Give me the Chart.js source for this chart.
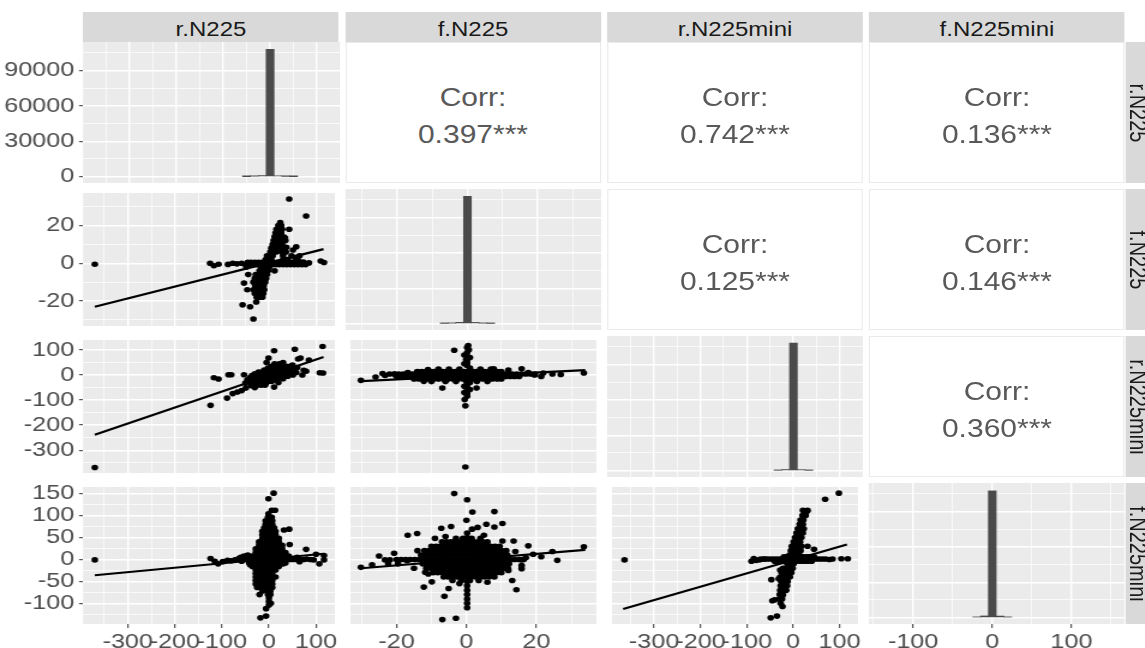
<!DOCTYPE html>
<html>
<head>
<meta charset="utf-8">
<script src="https://cdn.jsdelivr.net/npm/chart.js@4.4.1/dist/chart.umd.min.js"></script>
<style>
  html, body { margin: 0; padding: 0; background: #fff; overflow: hidden; width: 1145px; height: 648px; }
  /* the picture is a little wider than tall text would suggest, so lay it out narrow and stretch */
  #stage { position: absolute; left: 0; top: 0; width: 954.17px; height: 648px; transform-origin: 0 0; transform: scaleX(1.2); font-family: "Liberation Sans", Arial, sans-serif; }
  .strip { position: absolute; background: #D9D9D9; color: #1A1A1A; font-size: 20px; text-align: center; }
  .cor { position: absolute; background: #fff; border: 1px solid #EBEBEB; box-sizing: border-box; color: #595959; font-size: 25px; text-align: center; }
  .cor div { position: absolute; left: 0; right: 0; line-height: 30px; }
  canvas { position: absolute; }
</style>
</head>
<body>
<div id="stage"></div>
<script>
// ---- values ----
var variables = ['r.N225', 'f.N225', 'r.N225mini', 'f.N225mini'];

// upper triangle
var corrPairs = [[0, 1], [0, 2], [0, 3], [1, 2], [1, 3], [2, 3]];
var corrValues = [0.397, 0.742, 0.136, 0.125, 0.146, 0.360];
var corrStars = ['***', '***', '***', '***', '***', '***'];

// axis ranges / breaks per variable
var varRange = [[-395, 140], [-33.2, 37.2], [-391, 140], [-147, 165]];
var histRange = [[-400, 149], [-34.6, 38], [-400, 149], [-156, 167]];
var xMajor = [[-300, -200, -100, 0, 100], [-20, 0, 20], [-300, -200, -100, 0, 100], [-100, 0, 100]];
var xMinor = [[-350, -250, -150, -50, 50], [-30, -10, 10, 30], [-350, -250, -150, -50, 50], [-150, -50, 50, 150]];
var yMajor = [null, [-20, 0, 20], [-300, -200, -100, 0, 100], [-100, -50, 0, 50, 100, 150]];
var yMinor = [null, [-30, -10, 10, 30], [-350, -250, -150, -50, 50], [-125, -75, -25, 25, 75, 125]];
var countRange = [-5440, 114300];
var countMajor = [0, 30000, 60000, 90000];
var countMinor = [15000, 45000, 75000, 105000];

// diagonal histograms: [bin centre, count]
var histRN225 = [[-50.2, 40], [-33.4, 300], [-16.6, 900], [0.2, 108000], [17, 700], [33.8, 200], [50.6, 30]];
var histFN225 = [[-6.6, 150], [-4.4, 400], [-2.2, 1100], [0, 108000], [2.2, 1000], [4.4, 350], [6.6, 120]];
var histRN225mini = [[-33.3, 250], [-16.7, 900], [0, 108200], [16.7, 800], [33.3, 200]];
var histFN225mini = [[-19.6, 500], [-9.8, 1400], [0, 107600], [9.8, 1300], [19.6, 450]];

// scatter panels: rows are [y, [x, x, ...]], pts are [x, y], fit is the drawn lm line
var fN225_rN225_rows = [
  [-18, [-26, -20, -14]], [-16, [-30, -24, -18, -12]], [-14, [-33, -27, -21, -15, -10]],
  [-12, [-29, -23, -17, -11]], [-10, [-33, -27, -21, -14, -8]], [-8, [-30, -24, -18, -12, -6]],
  [-6, [-28, -22, -16, -10, -4]], [-4, [-20, -14, -8, -2]], [-2, [-17, -11, -5, 1]],
  [-0.7, [-50, -41, -34, -26, -18, -10, 6, 14, 22, 30, 38, 46, 54, 62, 70, 78]],
  [0.5, [-45, -38, -30, -22, -14, -6, 2, 10, 18, 26, 34, 42, 50, 58, 66]],
  [2, [-7, -1, 5, 30, 40]], [4, [-4, 2, 8, 30, 48]], [6, [3, 9, 15, 27, 36]], [8, [5, 11, 17, 25, 33]],
  [10, [8, 14, 20, 28]], [12, [10, 16, 22, 30]], [14, [12, 18, 24, 31]], [16, [14, 20, 26]],
  [18, [16, 22, 28]], [20, [20, 26]], [21.5, [24]]
];
var fN225_rN225_pts = [[-370, -0.5], [43, 34], [79, 25], [-125, 0], [-117, -1.3], [-107, -0.5], [-87, -0.6], [-77, 0],
  [-68, -0.3], [-58, 0], [73, 0.7], [85, 0.2], [110, 1.2], [117, 0.4], [-53, -10.5], [-46, -14], [-56, -22], [-40, -23],
  [-27, -20.5], [-33, -29.5], [12, -4], [43, 18], [58, 8.7], [51, 7], [65, 4], [35, 12], [34, 13.5], [37, 8.5], [56, 3],
  [62, 1.5], [-44, -6], [-48, -2]];
var fN225_rN225_fit = [[-370, -23], [116, 7.5]];

var rN225mini_rN225_rows = [
  [45, [12, 22]], [35, [5, 13, 21, 29, 37, 45]], [28, [-2, 6, 14, 22, 30, 38, 46, 54]],
  [20, [-10, -2, 6, 14, 22, 30, 38, 46, 54]], [12, [-22, -14, -6, 2, 10, 18, 26, 34, 42, 50]],
  [5, [-30, -22, -14, -6, 2, 10, 18, 26, 34, 42]], [-2, [-36, -28, -20, -12, -4, 4, 12, 20, 28, 36]],
  [-10, [-40, -32, -24, -16, -8, 0, 8, 16, 24]], [-18, [-44, -36, -28, -20, -12, -4, 4, 12]],
  [-25, [-42, -34, -26, -18, -10, -2, 6]], [-32, [-30, -22, -14, -6]], [-40, [-24, -16, -8]]
];
var rN225mini_rN225_pts = [[-370, -369], [-124, -121], [-89, -92], [-77, -74], [-67, -68], [-58, -62], [-49, -52],
  [-117, -11], [-107, -16], [-86, 1], [-80, 1], [-53, 1], [-1, 68], [11, 97], [55, 103], [114, 114], [62, 64], [67, 68],
  [85, 60], [11, -48], [74, 19], [79, 15], [71, 0], [108, 9], [115, 8], [51, 0], [-46, -20], [-50, -32], [-30, -50],
  [-38, -42], [60, 30], [50, 40], [30, 50], [-5, 50], [20, -30], [30, -15], [40, -5], [58, 10]];
var rN225mini_rN225_fit = [[-370, -238], [116, 72]];

var fN225mini_rN225_rows = [
  [96, [-2, 6]], [88, [-7, 0, 7]], [80, [-7, 0, 7]], [72, [-10, -3, 4, 11]], [64, [-14, -7, 0, 7, 14]],
  [56, [-14, -7, 0, 7, 14]], [48, [-14, -7, 0, 7, 14, 21]], [40, [-21, -14, -7, 0, 7, 14, 21]],
  [32, [-21, -14, -7, 0, 7, 14, 21, 28]], [24, [-28, -21, -14, -7, 0, 7, 14, 21, 28]],
  [16, [-28, -21, -14, -7, 0, 7, 14, 21, 28, 35]], [8, [-35, -28, -21, -14, -7, 0, 7, 14, 21, 28, 35, 42]],
  [0, [-50, -42, -35, -28, -21, -14, -7, 0, 7, 14, 21, 28, 35, 42, 50, 58, 66, 74]],
  [-8, [-42, -35, -28, -21, -14, -7, 0, 7, 14, 21, 28, 35]], [-16, [-35, -28, -21, -14, -7, 0, 7, 14, 21]],
  [-24, [-28, -21, -14, -7, 0, 7, 14]], [-32, [-28, -21, -14, -7, 0, 7]], [-40, [-28, -21, -14, -7, 0, 7, 14]],
  [-48, [-28, -21, -14, -7, 0, 7]], [-56, [-28, -21, -14, -7, 0, 7]], [-64, [-25, -18, -7, 0, 7]],
  [-72, [-14, -4, 3]], [-80, [-2, 3]], [-88, [0]], [-96, [0]], [-104, [0]]
];
var fN225mini_rN225_pts = [[-370, -1], [-124, 2], [-108, -10], [-115, -4], [-98, -5], [-88, -2], [-80, -3], [-72, -1],
  [-64, 2], [-58, -4], [-53, 8], [80, 1], [88, 0], [95, -1], [100, 12], [107, -10], [117, 9], [117, -1], [79, 23], [44, 34],
  [-45, 10], [-40, -12], [10, 151], [-1, 138], [6, 112], [13, 112], [-1, 104], [-18, -133], [-6, -129], [32, 67], [43, 69],
  [-6, -112], [4, -100], [-20, -80], [60, 5], [65, -5], [30, -10], [-60, 5]];
var fN225mini_rN225_fit = [[-370, -36], [116, 13]];

var rN225mini_fN225_rows = [
  [24, [-8, -5, -2, 1, 4, 7]],
  [14, [-14, -12.8, -11.6, -10.4, -9.2, -8, -6.8, -5.6, -4.4, -3.2, -2, -0.8, 0.4, 1.6, 2.8, 4, 5.2, 6.4, 7.6, 8.8, 10]],
  [4, [-22, -20.7, -19.4, -18.1, -16.8, -15.5, -14.2, -12.9, -11.6, -10.3, -9, -7.7, -6.4, -5.1, -3.8, -2.5, -1.2, 0.1,
    1.4, 2.7, 4, 5.3, 6.6, 7.9, 9.2, 10.5, 11.8, 13.1, 14.4, 15.7, 17, 18.3, 19.6]],
  [-6, [-20, -18.7, -17.4, -16.1, -14.8, -13.5, -12.2, -10.9, -9.6, -8.3, -7, -5.7, -4.4, -3.1, -1.8, -0.5, 0.8, 2.1,
    3.4, 4.7, 6, 7.3, 8.6, 9.9, 11.2, 12.5, 13.8, 15.1]],
  [-16, [-15, -13.6, -12.2, -10.8, -9.4, -8, -6.6, -5.2, -3.8, -2.4, -1, 0.4, 1.8, 3.2, 4.6, 6, 7.4, 8.8, 10]],
  [-26, [-10, -6, -3, 0, 3, 6]]
];
var rN225mini_fN225_pts = [[-30.2, -21], [-23.3, -2], [-20.5, 4], [0.5, 118], [0.7, 101], [-3.5, 99], [-0.1, 61],
  [-0.5, -98], [-0.3, -123], [-0.3, -367], [15.8, 25], [17.7, 10], [19.5, 0], [21.4, -6], [24.6, 4], [33.6, 8],
  [-6.9, -52], [2.9, -52], [-12.2, -25], [7.8, 25], [-16.8, 10], [-14.1, 13], [-26, -8], [-24, 6], [22, 8], [27, 2],
  [12, 20], [-11, 22],
  [0.2, 110], [0.2, 90], [0.2, 75], [0.2, 62], [0.2, 50], [0.2, 38], [0.2, -38], [0.2, -50], [0.2, -62], [0.2, -75],
  [0.2, -85], [-0.6, 80], [-0.6, 45], [-0.6, -45], [-0.6, -70], [1, 70], [1, 28], [1, -30], [1, -58]];
var rN225mini_fN225_fit = [[-30, -24], [34, 20]];

var fN225mini_fN225_rows = [
  [48, [-3, -1, 1.5, 4]],
  [40, [-7, -5.7, -4.4, -3.1, -1.8, -0.5, 0.8, 2.1, 3.4, 4.7, 6]],
  [30, [-10, -8.7, -7.4, -6.1, -4.8, -3.5, -2.2, -0.9, 0.4, 1.7, 3, 4.3, 5.6, 6.9, 8.2, 9.5]],
  [20, [-12, -10.7, -9.4, -8.1, -6.8, -5.5, -4.2, -2.9, -1.6, -0.3, 1, 2.3, 3.6, 4.9, 6.2, 7.5, 8.8, 10.1, 11.4]],
  [10, [-13, -11.7, -10.4, -9.1, -7.8, -6.5, -5.2, -3.9, -2.6, -1.3, 0, 1.3, 2.6, 3.9, 5.2, 6.5, 7.8, 9.1, 10.4, 11.7]],
  [0, [-20, -18.7, -17.4, -16.1, -14.8, -13.5, -12.2, -10.9, -9.6, -8.3, -7, -5.7, -4.4, -3.1, -1.8, -0.5, 0.8, 2.1,
    3.4, 4.7, 6, 7.3, 8.6, 9.9, 11.2, 12.5, 13.8, 15.1, 16.4]],
  [-10, [-12.5, -11.2, -9.9, -8.6, -7.3, -6, -4.7, -3.4, -2.1, -0.8, 0.5, 1.8, 3.1, 4.4, 5.7, 7, 8.3, 9.6, 10.9, 12.2]],
  [-20, [-11.5, -10.2, -8.9, -7.6, -6.3, -5, -3.7, -2.4, -1.1, 0.2, 1.5, 2.8, 4.1, 5.4, 6.7, 8, 9.3, 10.6, 11.9]],
  [-30, [-9.5, -8.2, -6.9, -5.6, -4.3, -3, -1.7, -0.4, 0.9, 2.2, 3.5, 4.8, 6.1, 7.4, 8.7, 10]],
  [-40, [-6.5, -5.2, -3.9, -2.6, -1.3, 0, 1.3, 2.6, 3.9, 5.2, 6.5]],
  [-48, [-4, -1.5, 1, 3.5]]
];
var fN225mini_fN225_pts = [[-3.5, 150], [-6.9, -137], [-3, -134], [0.2, 136], [1.7, 108], [8, 109], [0, 89], [10.3, 82],
  [-7.2, 71], [-4.4, 75], [-16.8, 55], [-14.1, 59], [5.7, 80], [8, 74], [3.2, 73], [1.6, 69], [-23.3, -1], [-21.9, -1],
  [-20.7, 14], [-22.4, -10], [-19.6, -10], [17.7, 31], [19.1, 12], [21.4, 6], [24.6, 18], [33.6, 29], [15.8, -1],
  [15.8, -14], [15.8, -21], [13.1, -48], [14.3, -69], [8, -40], [10.3, 42], [13.5, 42], [-12.2, -63], [-9.9, -51],
  [-6.3, -84], [-5.1, -66], [-11.8, -29], [-10.9, -33], [0.2, 50], [0.2, 60], [0.2, -50], [0.2, -60], [0.2, -70],
  [0.2, -80], [0.2, -90], [0.2, -100], [0.2, -110], [-30.2, -18], [-14, 20], [14, 18], [-15, -20], [12, -25], [-6, 52],
  [5, 55], [-2, -55], [6, -52], [-9, 48], [17, 4], [-17, -3], [-25, 8], [-27, -12], [26, -2]];
var fN225mini_fN225_fit = [[-30, -20], [34, 22]];

var fN225mini_rN225mini_rows = [
  [110, [24, 30]], [100, [20, 27]], [90, [16, 22]], [80, [14, 21]], [70, [10, 17, 23]], [60, [7, 14, 21]],
  [50, [4, 11, 18]], [40, [1, 8, 15]], [30, [-3, 4, 11, 18]], [20, [-5, 2, 9, 16]], [10, [-8, -1, 6, 13]],
  [6, [-20, -13, -6, 1, 8, 15, 22, 29, 36, 45]],
  [1, [-70, -63, -56, -49, -42, -35, -28, -21, -14, -7, 0, 7, 14, 21, 28, 35, 42, 49, 56, 63, 70]],
  [-4, [-40, -32, -24, -16, -8, 0, 8, 16, 24, 32, 40]],
  [-10, [-13, -6, 1]], [-20, [-22, -15, -8, -1]], [-30, [-25, -18, -11, -4]], [-40, [-28, -21, -14, -7]],
  [-50, [-26, -19, -12]], [-60, [-27, -20, -13]], [-70, [-28, -21, -15]], [-80, [-29, -22]], [-90, [-30, -24]],
  [-100, [-27]]
];
var fN225mini_rN225mini_pts = [[-364, -1], [-90, -4], [-73, -1], [-62, 1], [-48.5, -133], [-35, -129], [-45, -94],
  [-40, -92], [-28, -24], [-47, -46], [-31, -44], [-23, -107], [-24, -84], [69, 137], [98.6, 151], [104, 1.6],
  [118, 1.6], [31, 30], [45, 23], [21, 112], [31, 112], [-85, 2], [-80, -2], [78, 0], [85, 1]];
var fN225mini_rN225mini_fit = [[-367, -113], [116, 34]];

// ---- layout (design px, stage is stretched 1.2x horizontally) ----
var S = 1.2;
var colL = [83, 345, 607, 869].map(function (v) { return v / S; });
var PW = 256 / S;
var rowT = [42, 189, 336, 483];
var PH = 141;
var BOTTOM = 648;
var TICK_FONT = { family: 'Liberation Sans', size: 21 };
var stage = document.getElementById('stage');

var histBins = [histRN225, histFN225, histRN225mini, histFN225mini];
var scatter = {
  '1,0': [fN225_rN225_rows, fN225_rN225_pts, fN225_rN225_fit],
  '2,0': [rN225mini_rN225_rows, rN225mini_rN225_pts, rN225mini_rN225_fit],
  '3,0': [fN225mini_rN225_rows, fN225mini_rN225_pts, fN225mini_rN225_fit],
  '2,1': [rN225mini_fN225_rows, rN225mini_fN225_pts, rN225mini_fN225_fit],
  '3,1': [fN225mini_fN225_rows, fN225mini_fN225_pts, fN225mini_fN225_fit],
  '3,2': [fN225mini_rN225mini_rows, fN225mini_rN225mini_pts, fN225mini_rN225mini_fit]
};

function xy(p) { return { x: p[0], y: p[1] }; }

function rowsToPoints(rows) {
  var out = [];
  rows.forEach(function (r) { r[1].forEach(function (x) { out.push([x, r[0]]); }); });
  return out;
}

var panelBg = {
  id: 'panelBg',
  beforeDraw: function (chart) {
    var a = chart.chartArea, ctx = chart.ctx;
    ctx.save();
    ctx.fillStyle = '#EBEBEB';
    ctx.fillRect(a.left, a.top, a.right - a.left, a.bottom - a.top);
    ctx.restore();
  }
};

function axis(range, majors, minors, pos, labels, size) {
  var vals = majors.concat(minors).sort(function (a, b) { return a - b; });
  var isMajor = function (c) { return c.tick && majors.indexOf(c.tick.value) >= 0; };
  return {
    type: 'linear', position: pos, min: range[0], max: range[1], offset: false,
    afterBuildTicks: function (s) { s.ticks = vals.map(function (v) { return { value: v }; }); },
    afterFit: function (s) {
      if (pos === 'bottom') s.height = size; else s.width = size;
      s.paddingLeft = s.paddingRight = s.paddingTop = s.paddingBottom = 0;
    },
    border: { display: false },
    grid: {
      offset: false,
      color: '#FFFFFF',
      lineWidth: function (c) { return isMajor(c) ? 1.4 : 0.7; },
      drawTicks: labels,
      tickLength: pos === 'bottom' ? 4 : 3.3,
      tickWidth: 1,
      tickColor: function (c) { return isMajor(c) ? '#333333' : 'rgba(0,0,0,0)'; }
    },
    ticks: {
      display: labels, autoSkip: false, maxRotation: 0, minRotation: 0, padding: pos === 'bottom' ? 2 : 4,
      color: '#4D4D4D', font: TICK_FONT,
      callback: function (v) { return majors.indexOf(v) >= 0 ? String(v) : ''; }
    }
  };
}

function makeCanvas(r, c) {
  var left = c === 0 ? 0 : colL[c];
  var right = colL[c] + PW;
  var top = rowT[r];
  var bottom = r === 3 ? BOTTOM : rowT[r] + PH;
  var cv = document.createElement('canvas');
  cv.width = Math.round(right - left);
  cv.height = bottom - top;
  cv.style.left = left + 'px';
  cv.style.top = top + 'px';
  stage.appendChild(cv);
  return cv;
}

function baseOptions(scales) {
  return {
    responsive: false, animation: false, devicePixelRatio: 1, events: [],
    layout: { padding: 0 },
    plugins: { legend: { display: false }, tooltip: { enabled: false } },
    scales: scales
  };
}

for (var r = 0; r < 4; r++) {
  for (var c = 0; c < 4; c++) {
    if (r < c) continue;
    var cv = makeCanvas(r, c);
    var xSize = r === 3 ? BOTTOM - (rowT[3] + PH) : 0;
    var ySize = c === 0 ? colL[0] : 0;
    if (r === c) {
      new Chart(cv, {
        type: 'bar',
        data: { datasets: [{
          data: histBins[c].map(xy), backgroundColor: '#4A4A4A', borderWidth: 0,
          barPercentage: 1, categoryPercentage: 1
        }] },
        options: baseOptions({
          x: axis(histRange[c], xMajor[c], xMinor[c], 'bottom', r === 3, xSize),
          y: axis(countRange, countMajor, countMinor, 'left', c === 0, ySize)
        }),
        plugins: [panelBg]
      });
    } else {
      var sp = scatter[r + ',' + c];
      var pts = rowsToPoints(sp[0]).concat(sp[1]);
      new Chart(cv, {
        type: 'scatter',
        data: { datasets: [
          { data: sp[2].map(xy), showLine: true, borderColor: '#000000', borderWidth: 2.2, pointRadius: 0, fill: false },
          { data: pts.map(xy), pointRadius: 2.8, pointBorderWidth: 0, backgroundColor: '#000000', pointBackgroundColor: '#000000' }
        ] },
        options: baseOptions({
          x: axis(varRange[c], xMajor[c], xMinor[c], 'bottom', r === 3, xSize),
          y: axis(varRange[r], yMajor[r], yMinor[r], 'left', c === 0, ySize)
        }),
        plugins: [panelBg]
      });
    }
  }
}

// correlation panels
corrPairs.forEach(function (p, i) {
  var d = document.createElement('div');
  d.className = 'cor';
  d.style.left = colL[p[1]] + 'px';
  d.style.top = rowT[p[0]] + 'px';
  d.style.width = PW + 'px';
  d.style.height = PH + 'px';
  var a = document.createElement('div');
  a.style.top = '39px';
  a.textContent = 'Corr:';
  var b = document.createElement('div');
  b.style.top = '76px';
  b.textContent = corrValues[i].toFixed(3) + corrStars[i];
  d.appendChild(a); d.appendChild(b);
  stage.appendChild(d);
});

// facet strips
variables.forEach(function (name, i) {
  var t = document.createElement('div');
  t.className = 'strip';
  t.style.cssText = 'left:' + colL[i] + 'px;top:12px;width:' + PW + 'px;height:30px;line-height:34px;';
  t.textContent = name;
  stage.appendChild(t);

  var s = document.createElement('div');
  s.className = 'strip';
  s.style.cssText = 'left:' + (1126 / S) + 'px;top:' + rowT[i] + 'px;width:25px;height:' + PH + 'px;';
  stage.appendChild(s);

  var lab = document.createElement('div');
  lab.className = 'strip';
  lab.style.cssText = 'background:none;left:' + (950 - PH / 2) + 'px;top:' + (rowT[i] + PH / 2 - 15) +
    'px;width:' + PH + 'px;height:30px;line-height:34px;transform:rotate(90deg);';
  lab.textContent = name;
  stage.appendChild(lab);
});
</script>
</body>
</html>
